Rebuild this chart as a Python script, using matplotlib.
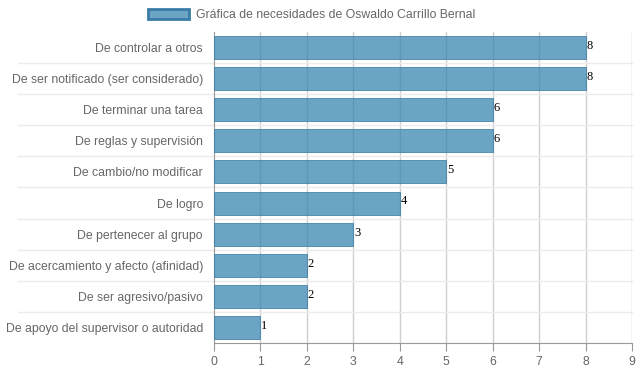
import matplotlib.pyplot as plt
from matplotlib.patches import Patch
from matplotlib.lines import Line2D

categorias = [
    "De controlar a otros",
    "De ser notificado (ser considerado)",
    "De terminar una tarea",
    "De reglas y supervisión",
    "De cambio/no modificar",
    "De logro",
    "De pertenecer al grupo",
    "De acercamiento y afecto (afinidad)",
    "De ser agresivo/pasivo",
    "De apoyo del supervisor o autoridad",
]
valores = [8, 8, 6, 6, 5, 4, 3, 2, 2, 1]
x_ticks = list(range(0, 10))
titulo_serie = "Gráfica de necesidades de Oswaldo Carrillo Bernal"

plt.rcParams["font.family"] = ["Liberation Sans", "DejaVu Sans"]

fig = plt.figure(figsize=(6.39, 3.72), dpi=100)
ax = fig.add_axes([214 / 639, 1 - 343 / 372, 418 / 639, 311 / 372])

bar_face = (58 / 255, 135 / 255, 175 / 255, 0.75)
bar_edge = (58 / 255, 125 / 255, 165 / 255, 0.9)

pos = list(range(len(categorias)))
ax.barh(pos, valores, height=0.74, color=bar_face, edgecolor=bar_edge,
        linewidth=0.6, zorder=3)

for p, v in zip(pos, valores):
    ax.text(v + 0.02, p - 0.05, str(v), va="center", ha="left", fontsize=9,
            color="black", family=["Liberation Serif", "DejaVu Serif"], zorder=4)

ax.set_xlim(0, 9)
ax.set_ylim(len(categorias) - 0.5, -0.5)
ax.set_xticks(x_ticks)
ax.set_yticks(pos)
ax.set_yticklabels(categorias)

# vertical grid
for t in x_ticks[1:]:
    ax.axvline(t, color="#cfcfcf", linewidth=1, zorder=1)
# horizontal separators extending into the label area
for b in range(1, len(categorias)):
    ax.add_line(Line2D([-0.47, 1.0], [b - 0.5, b - 0.5], transform=ax.get_yaxis_transform(),
                       color="#ebebeb", linewidth=1, clip_on=False, zorder=1))

for s in ["top", "right"]:
    ax.spines[s].set_visible(False)
ax.spines["left"].set_color("#999999")
ax.spines["bottom"].set_color("#999999")
ax.tick_params(axis="x", colors="#999999", labelcolor="#666666", labelsize=8.8,
               length=6, width=0.8)
ax.tick_params(axis="y", length=0, labelcolor="#666666", labelsize=8.8, pad=8)

leg = fig.legend(handles=[Patch(facecolor=(107 / 255, 165 / 255, 195 / 255),
                               edgecolor="#3a7ca8", linewidth=2,
                               label=titulo_serie)],
                 loc="upper center", bbox_to_anchor=(0.488, 1.0), frameon=False,
                 fontsize=8.8, handlelength=3.3, handleheight=0.9,
                 handletextpad=0.6, borderaxespad=0.3)
for t in leg.get_texts():
    t.set_color("#666666")

fig.savefig("out.png", dpi=100)
